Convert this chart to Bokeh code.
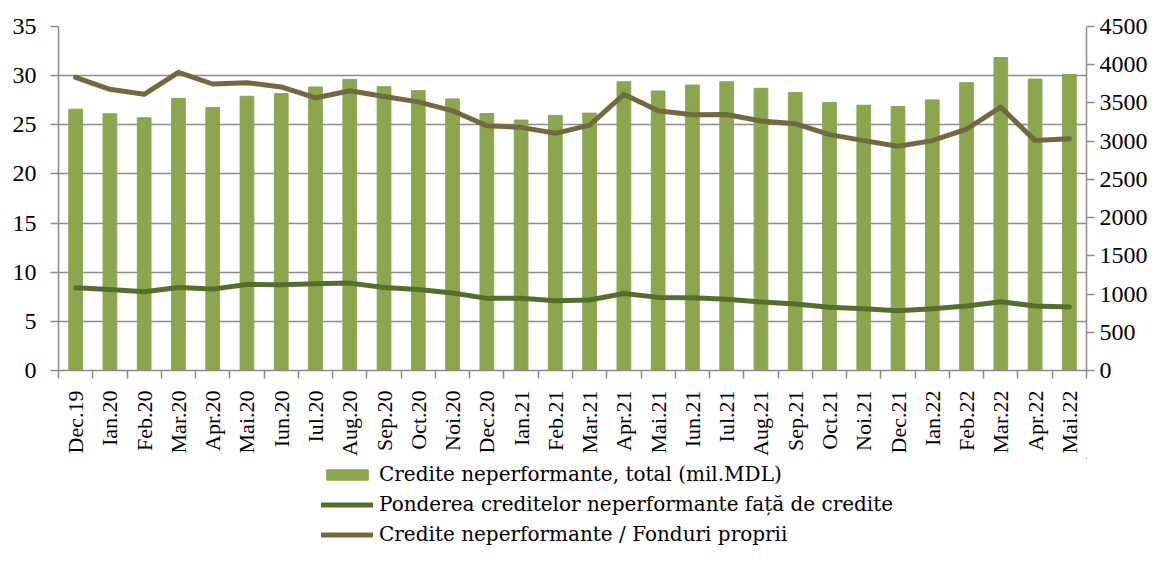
import math
from bokeh.plotting import figure
from bokeh.models import Range1d, LinearAxis, FixedTicker, Legend, LegendItem
from bokeh.layouts import column
from bokeh.embed import file_html
from bokeh.resources import INLINE

months = ["Dec.19", "Ian.20", "Feb.20", "Mar.20", "Apr.20", "Mai.20", "Iun.20", "Iul.20",
          "Aug.20", "Sep.20", "Oct.20", "Noi.20", "Dec.20", "Ian.21", "Feb.21", "Mar.21",
          "Apr.21", "Mai.21", "Iun.21", "Iul.21", "Aug.21", "Sep.21", "Oct.21", "Noi.21",
          "Dec.21", "Ian.22", "Feb.22", "Mar.22", "Apr.22", "Mai.22"]

npl_total = [3419, 3358, 3306, 3557, 3440, 3587, 3622, 3709, 3808, 3713, 3661, 3553,
             3362, 3276, 3337, 3367, 3777, 3656, 3734, 3777, 3691, 3635, 3505, 3470,
             3453, 3540, 3765, 4094, 3812, 3873]

npl_share = [8.41, 8.25, 8.01, 8.45, 8.28, 8.75, 8.72, 8.82, 8.89, 8.45, 8.25, 7.88,
             7.34, 7.34, 7.10, 7.17, 7.84, 7.44, 7.40, 7.24, 6.97, 6.77, 6.43, 6.29,
             6.09, 6.29, 6.56, 7.00, 6.56, 6.46]

npl_own_funds = [29.82, 28.61, 28.10, 30.33, 29.15, 29.28, 28.85, 27.73, 28.47, 27.87,
                 27.33, 26.42, 24.91, 24.74, 24.13, 24.97, 28.10, 26.42, 26.02, 26.05,
                 25.38, 25.11, 24.00, 23.39, 22.82, 23.39, 24.57, 26.79, 23.39, 23.59]

left_ticks = [0, 5, 10, 15, 20, 25, 30, 35]
right_ticks = [0, 500, 1000, 1500, 2000, 2500, 3000, 3500, 4000, 4500]

label_bars = "Credite neperformante, total (mil.MDL)"
label_share = "Ponderea creditelor neperformante față de credite"
label_funds = "Credite neperformante / Fonduri proprii"

FONT = "Liberation Serif"
LEGEND_FONT = "DejaVu Serif"
GREY = "#8c8c8c"
BAR = "#8ba64f"
LINE_SHARE = "#566e2c"
LINE_FUNDS = "#716a40"

n = len(months)
xc = [i + 0.5 for i in range(n)]

p = figure(width=1150, height=458, output_backend="svg", toolbar_location=None,
           x_range=Range1d(0, n), y_range=Range1d(0, 35),
           min_border_left=58, min_border_right=64, min_border_top=26, min_border_bottom=84)
p.outline_line_color = None
p.extra_y_ranges = {"right": Range1d(0, 4500)}

p.vbar(x=xc, top=npl_total, width=0.4, color=BAR, y_range_name="right")
p.line(xc, npl_share, line_width=5, color=LINE_SHARE, line_join="round", line_cap="round")
p.line(xc, npl_own_funds, line_width=5, color=LINE_FUNDS, line_join="round", line_cap="round")

# x axis
xa = p.xaxis[0]
xa.ticker = FixedTicker(ticks=xc, minor_ticks=list(range(n + 1)))
xa.major_label_overrides = {x: m for x, m in zip(xc, months)}
xa.major_label_orientation = math.pi / 2
xa.major_tick_line_color = None
xa.major_tick_out = 0
xa.major_tick_in = 0
xa.minor_tick_line_color = GREY
xa.minor_tick_line_width = 1.5
xa.minor_tick_out = 8
xa.minor_tick_in = 0
xa.axis_line_color = GREY
xa.axis_line_width = 1.5
xa.major_label_standoff = 12
xa.major_label_text_font = FONT
xa.major_label_text_font_size = "22px"
xa.major_label_text_color = "black"

# left y axis
ya = p.yaxis[0]
ya.ticker = FixedTicker(ticks=left_ticks)
ya.minor_tick_line_color = None
ya.major_tick_line_color = GREY
ya.major_tick_line_width = 1.5
ya.major_tick_out = 8
ya.major_tick_in = 0
ya.axis_line_color = GREY
ya.axis_line_width = 1.5
ya.major_label_standoff = 14
ya.major_label_text_font = FONT
ya.major_label_text_font_size = "24px"
ya.major_label_text_color = "black"

# right y axis
ra = LinearAxis(y_range_name="right", ticker=FixedTicker(ticks=right_ticks))
ra.minor_tick_line_color = None
ra.major_tick_line_color = GREY
ra.major_tick_line_width = 1.5
ra.major_tick_out = 8
ra.major_tick_in = 0
ra.axis_line_color = GREY
ra.axis_line_width = 1.5
ra.major_label_standoff = 5
ra.major_label_text_font = FONT
ra.major_label_text_font_size = "24px"
ra.major_label_text_color = "black"
p.add_layout(ra, "right")

p.xgrid.grid_line_color = None
p.ygrid.grid_line_color = GREY
p.ygrid.grid_line_width = 1.5
p.ygrid.ticker = FixedTicker(ticks=left_ticks)

# legend panel: a second figure below with the same series (kept out of view)
q = figure(width=1150, height=91, output_backend="svg", toolbar_location=None,
           x_range=Range1d(-200, -199), y_range=Range1d(-9000, -8999),
           x_axis_location=None, y_axis_location=None,
           min_border_left=0, min_border_right=0, min_border_top=0, min_border_bottom=0)
q.outline_line_color = None
q.xgrid.visible = False
q.ygrid.visible = False
rb = q.vbar(x=xc, top=npl_total, width=0.4, color=BAR)
r1 = q.line(xc, npl_share, line_width=5, color=LINE_SHARE, line_cap="round")
r2 = q.line(xc, npl_own_funds, line_width=5, color=LINE_FUNDS, line_cap="round")

legend = Legend(items=[LegendItem(label=label_bars, renderers=[rb]),
                       LegendItem(label=label_share, renderers=[r1]),
                       LegendItem(label=label_funds, renderers=[r2])],
                location=(263, 3), orientation="vertical",
                background_fill_alpha=0, border_line_color=None,
                padding=0, margin=0, spacing=6,
                glyph_width=52, glyph_height=13, label_height=24, label_standoff=6,
                label_text_font=LEGEND_FONT, label_text_font_size="20px",
                label_text_color="black")
q.add_layout(legend, "center")

layout = column(p, q, spacing=0)
open("out.html", "w").write(file_html(layout, INLINE))
